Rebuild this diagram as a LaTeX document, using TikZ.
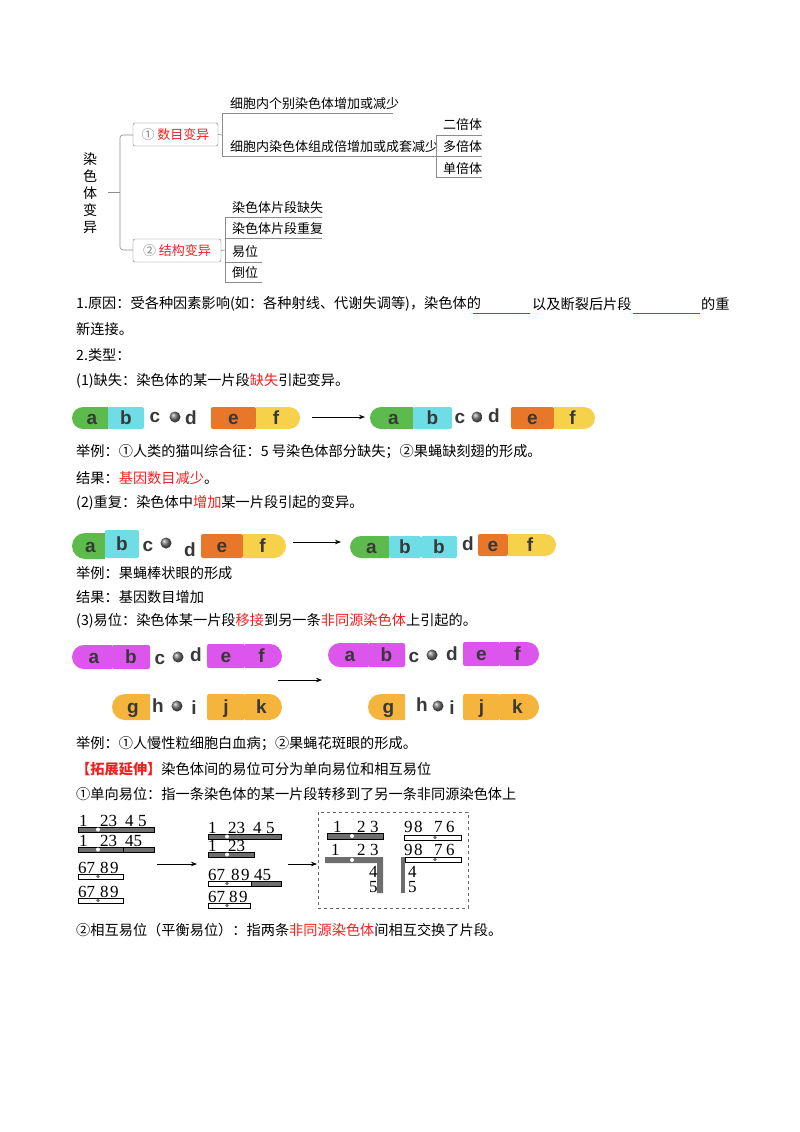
\documentclass[tikz,border=0pt]{standalone}
\usepackage{fontspec}
\setmainfont{Liberation Serif}
\setsansfont{Liberation Sans}
\newfontfamily\cjk{Noto Sans CJK SC}
\usetikzlibrary{arrows.meta}
\definecolor{gr}{HTML}{5DBB4E}
\definecolor{cy}{HTML}{6FDDE6}
\definecolor{og}{HTML}{E8772A}
\definecolor{yl}{HTML}{F6D24A}
\definecolor{mg}{HTML}{DC55EC}
\definecolor{oy}{HTML}{F5B43C}
\definecolor{rd}{HTML}{F02020}
\definecolor{bar}{HTML}{6E6E6E}
\newcommand\sqseg[6]{\fill[#5,rounded corners=2pt] (#1,#3-#4) rectangle (#2,#3+#4); \node[lbl] at ({(#1+#2)/2},#3+6.5) {#6};}
\newcommand\lseg[6]{\fill[#5] (#2,#3-#4) [rounded corners=#4pt] -- (#1,#3-#4) -- (#1,#3+#4) [sharp corners] -- (#2,#3+#4) -- cycle; \node[lbl] at ({(#1+#2)/2+2},#3+6.5) {#6};}
\newcommand\rseg[6]{\fill[#5] (#1,#3-#4) [rounded corners=#4pt] -- (#2,#3-#4) -- (#2,#3+#4) [sharp corners] -- (#1,#3+#4) -- cycle; \node[lbl] at ({(#1+#2)/2-2},#3+6.5) {#6};}
\newcommand\cen[2]{\shade[ball color=black!55] (#1,#2) circle (5.5pt);}
\newcommand\lt[3]{\node[lbl] at (#1,#2+6.5) {#3};}
\newcommand\dg[3]{\node[num] at (#1,#2) {#3};}
\begin{document}
\begin{tikzpicture}[x=1pt,y=-1pt,
  lbl/.style={font=\sffamily\bfseries\fontsize{19}{19}\selectfont,text=black!78,inner sep=0,anchor=base},
  body/.style={anchor=west,font=\cjk\fontsize{14.2}{16}\selectfont,inner sep=0},
  mm/.style={anchor=west,font=\cjk\fontsize{13}{15}\selectfont,inner sep=0},
  mline/.style={draw=black!45,line width=0.6pt},
  arr/.style={-{Stealth[length=6pt]},line width=0.7pt},
  num/.style={font=\fontsize{17}{17}\selectfont,inner sep=0,anchor=base west},
  dbar/.style={fill=bar,draw=black,line width=0.5pt},
  wbar/.style={fill=white,draw=black,line width=0.5pt}]
\useasboundingbox (0,0) rectangle (800,1132);
% ---- mind map
\node[font=\cjk\fontsize{14}{17}\selectfont,align=center,inner sep=0] (root) at (90,193) {染\\色\\体\\变\\异};
\draw[mline] (108,192) -- (120,192);
\draw[mline,rounded corners=3pt] (133,135) -- (120,135) -- (120,250) -- (133,250);
\node[draw=black!55,rounded corners=2pt,minimum width=85pt,minimum height=23pt,inner sep=0,font=\cjk\fontsize{13}{15}\selectfont] (b1) at (175.5,134.5) {\textcolor{black!50}{①} \textcolor{rd}{数目变异}};
\node[draw=black!55,rounded corners=2pt,minimum width=88pt,minimum height=23pt,inner sep=0,font=\cjk\fontsize{13}{15}\selectfont] (b2) at (177,250.5) {\textcolor{black!50}{②} \textcolor{rd}{结构变异}};
\draw[mline] (b1.east) -- (222,135);
\draw[mline] (222,113) -- (222,156);
\draw[mline] (222,113) -- (393,113);
\draw[mline] (222,156) -- (436,156);
\node[mm] (t1) at (230,104) {细胞内个别染色体增加或减少};
\node[mm] (t2) at (230,147) {细胞内染色体组成倍增加或成套减少};
\draw[mline] (436,135) -- (436,177);
\foreach \yy in {135,156,177} \draw[mline] (436,\yy) -- (482,\yy);
\node[mm] (p1) at (443,125) {二倍体};
\node[mm] (p2) at (443,147) {多倍体};
\node[mm] (p3) at (443,169) {单倍体};
\draw[mline] (b2.east) -- (225,250);
\draw[mline] (225,217) -- (225,282);
\draw[mline] (225,217) -- (322,217);
\draw[mline] (225,238) -- (322,238);
\draw[mline] (225,262) -- (262,262);
\draw[mline] (225,282) -- (262,282);
\node[mm] (s1) at (232,208) {染色体片段缺失};
\node[mm] (s2) at (232,229) {染色体片段重复};
\node[mm] (s3) at (232,252) {易位};
\node[mm] (s4) at (232,273) {倒位};
% ---- text
\node[body] (l1) at (76,304) {1.原因：受各种因素影响(如：各种射线、代谢失调等)，染色体的};
\draw[rd,line width=0.9pt] (473,313) -- (530,313);
\node[body] (l1b) at (532,304) {以及断裂后片段};
\draw[rd,line width=0.9pt] (633,313) -- (700,313);
\node[body] (l1c) at (701,304) {的重};
\node[body] (l2) at (76,329) {新连接。};
\node[body] (l3) at (76,355) {2.类型：};
\node[body] (l4) at (76,381) {(1)缺失：染色体的某一片段\textcolor{rd}{缺失}引起变异。};
\node[body] (l5) at (76,452) {举例：①人类的猫叫综合征：5 号染色体部分缺失；②果蝇缺刻翅的形成。};
\node[body] (l6) at (76,478) {结果：\textcolor{rd}{基因数目减少}。};
\node[body] (l7) at (76,503) {(2)重复：染色体中\textcolor{rd}{增加}某一片段引起的变异。};
\node[body] (l8) at (76,573) {举例：果蝇棒状眼的形成};
\node[body] (l9) at (76,597) {结果：基因数目增加};
\node[body] (l10) at (76,621) {(3)易位：染色体某一片段\textcolor{rd}{移接}到另一条\textcolor{rd}{非同源染色体}上引起的。};
\node[body] (l11) at (76,744) {举例：①人慢性粒细胞白血病；②果蝇花斑眼的形成。};
\node[body] (l12) at (76,769) {\textcolor{rd}{\bfseries【拓展延伸】}染色体间的易位可分为单向易位和相互易位};
\node[body] (l13) at (76,794) {①单向易位：指一条染色体的某一片段转移到了另一条非同源染色体上};
\node[body] (l14) at (76,930) {②相互易位（平衡易位）：指两条\textcolor{rd}{非同源染色体}间相互交换了片段。};
% ---- row 1 deletion
\lseg{72}{108}{418}{11}{gr}{a}\sqseg{108}{144}{418}{11}{cy}{b}
\lt{155}{416}{c}\cen{175}{417}\lt{191}{418}{d}
\sqseg{211}{256}{418}{11}{og}{e}\rseg{256}{300}{418}{11}{yl}{f}
\coordinate (a1s) at (312,417); \coordinate (a1e) at (365,417);
\draw[arr] (a1s) -- (a1e);
\lseg{370}{413}{418}{11}{gr}{a}\sqseg{413}{452}{418}{11}{cy}{b}
\lt{460}{417}{c}\cen{477}{417}\lt{494}{416}{d}
\sqseg{511}{554}{418}{11}{og}{e}\rseg{554}{595}{418}{11}{yl}{f}
% ---- row 2 duplication
\lseg{72}{105}{546}{13}{gr}{a}\sqseg{105}{139}{544}{14}{cy}{b}
\lt{148}{545}{c}\cen{166}{543}\lt{190}{550}{d}
\sqseg{201}{243}{546}{12}{og}{e}\rseg{243}{286}{546}{12}{yl}{f}
\coordinate (a2s) at (293,542); \coordinate (a2e) at (341,542);
\draw[arr] (a2s) -- (a2e);
\lseg{350}{389}{547}{11}{gr}{a}\sqseg{389}{421}{547}{11}{cy}{b}\sqseg{421}{457}{547}{11}{cy}{b}
\lt{468}{544}{d}
\sqseg{478}{508}{545}{11}{og}{e}\rseg{508}{556}{545}{11}{yl}{f}
% ---- row 3 translocation
\lseg{72}{112}{657}{12}{mg}{a}\sqseg{112}{150}{657}{12}{mg}{b}
\lt{160}{658}{c}\cen{178}{657}\lt{196}{655}{d}
\sqseg{207}{245}{656}{12}{mg}{e}\rseg{245}{282}{656}{12}{mg}{f}
\lseg{112}{150}{707}{13}{oy}{g}\lt{158}{706}{h}\cen{177}{706}\lt{194}{708}{i}
\sqseg{207}{245}{707}{13}{oy}{j}\rseg{245}{282}{707}{13}{oy}{k}
\coordinate (a3s) at (278,680); \coordinate (a3e) at (322,680);
\draw[arr] (a3s) -- (a3e);
\lseg{328}{368}{655}{12}{mg}{a}\sqseg{368}{405}{655}{12}{mg}{b}
\lt{414}{656}{c}\cen{432}{655}\lt{452}{654}{d}
\sqseg{463}{500}{654}{12}{mg}{e}\rseg{500}{539}{654}{12}{mg}{f}
\lseg{368}{405}{707}{13}{oy}{g}\lt{422}{705}{h}\cen{438}{706}\lt{452}{708}{i}
\sqseg{463}{500}{707}{13}{oy}{j}\rseg{500}{539}{707}{13}{oy}{k}
% ---- bottom diagram
\dg{79}{826}{1}\dg{100}{826}{23}\dg{125}{826}{4}\dg{138}{826}{5}
\draw[dbar] (78,827) rectangle (154,832); \fill[white] (98,829.5) circle (2pt);
\dg{79}{846}{1}\dg{100}{846}{23}\dg{125}{846}{45}
\draw[dbar] (78,847) rectangle (123,852); \draw[dbar] (123,847) rectangle (154,852); \fill[white] (98,849.5) circle (2pt);
\dg{78}{873}{67}\dg{100}{873}{8}\dg{110}{873}{9}
\draw[wbar] (78,874) rectangle (123,879); \fill[bar] (98,876.5) circle (1.8pt);
\dg{78}{897}{67}\dg{100}{897}{8}\dg{110}{897}{9}
\draw[wbar] (78,898) rectangle (123,903); \fill[bar] (98,900.5) circle (1.8pt);
\coordinate (a4s) at (157,864); \coordinate (a4e) at (197,864);
\draw[arr] (a4s) -- (a4e);
\dg{208}{833}{1}\dg{228}{833}{23}\dg{253}{833}{4}\dg{266}{833}{5}
\draw[dbar] (208,834) rectangle (281,839); \fill[white] (227,836.5) circle (2pt);
\dg{208}{851}{1}\dg{228}{851}{23}
\draw[dbar] (208,852) rectangle (254,857); \fill[white] (227,854.5) circle (2pt);
\dg{208}{880}{67}\dg{231}{880}{8}\dg{241}{880}{9}\dg{254}{880}{45}
\draw[wbar] (208,881) rectangle (251,886); \draw[dbar] (251,881) rectangle (281,886); \fill[bar] (227,883.5) circle (1.8pt);
\dg{208}{902}{67}\dg{229}{902}{8}\dg{239}{902}{9}
\draw[wbar] (208,903) rectangle (250,908); \fill[bar] (227,905.5) circle (1.8pt);
\coordinate (a5s) at (288,864); \coordinate (a5e) at (317,864);
\draw[arr] (a5s) -- (a5e);
\draw[dashed,draw=black!60,line width=0.6pt] (318,812) rectangle (468,908);
\dg{333}{832}{1}\dg{357}{832}{2}\dg{370}{832}{3}
\draw[dbar] (327,833) rectangle (383,839); \fill[white] (352,836) circle (2pt);
\dg{404}{832}{9}\dg{414}{832}{8}\dg{434}{832}{7}\dg{446}{832}{6}
\draw[wbar] (404,835) rectangle (461,840); \fill[bar] (435,837.5) circle (1.8pt);
\dg{331}{855}{1}\dg{357}{855}{2}\dg{370}{855}{3}
\fill[bar] (325,857) -- (383,857) -- (383,893) -- (377,893) -- (377,863) -- (325,863) -- cycle;
\fill[white] (352,860) circle (2pt);
\dg{369}{877}{4}
\dg{369}{892}{5}
\dg{404}{855}{9}\dg{414}{855}{8}\dg{434}{855}{7}\dg{446}{855}{6}
\draw[wbar] (405,857) rectangle (461,862); \fill[bar] (435,859.5) circle (1.8pt);
\fill[bar] (401,857) rectangle (405,893);
\dg{408}{877}{4}
\dg{408}{892}{5}
\end{tikzpicture}
\end{document}
